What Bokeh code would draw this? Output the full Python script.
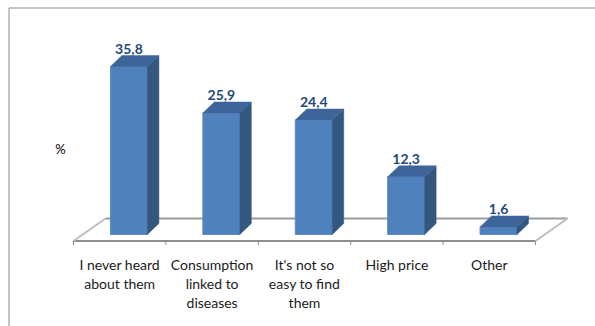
from bokeh.plotting import figure
from bokeh.models import Range1d, ColumnDataSource
from bokeh.core.properties import value
from bokeh.embed import file_html
from bokeh.resources import INLINE

# ---- data ----
categories = ["I never heard\nabout them", "Consumption\nlinked to\ndiseases",
              "It's not so\neasy to find\nthem", "High price", "Other"]
values = [35.8, 25.9, 24.4, 12.3, 1.6]
value_labels = ["35,8", "25,9", "24,4", "12,3", "1,6"]
axis_title = "%"

# ---- layout constants ----
W, H = 595, 326
PXX = 92.4      # pixels per category slot
PXY = 4.69      # pixels per percent
X0PX = 73       # pixel of the first slot boundary
Y0PX = 234      # pixel of the bar base
xr = Range1d(-X0PX / PXX, (W - X0PX) / PXX)
yr = Range1d(-(H - Y0PX) / PXY, Y0PX / PXY)

def px_x(d):
    return d / PXX

def px_y(d):
    return d / PXY

BAR_L, BAR_R = 0.40, 0.80
DX, DY = px_x(11.5), px_y(11)
FLOOR_FRONT, FLOOR_BACK = px_y(-6.5), px_y(16)
FLOOR_DX = px_x(32)

p = figure(width=W, height=H, x_range=xr, y_range=yr, output_backend="svg",
           toolbar_location=None, min_border=0)
p.axis.visible = False
p.grid.visible = False
p.outline_line_color = None
p.background_fill_color = "white"
p.border_fill_color = "white"

n = len(values)

# border (top + left edges of the chart area)
bx = xr.start + px_x(8.5)
by = yr.end - px_y(7.5)
p.line([bx, bx, xr.end], [yr.start, by, by], line_color="#8C8C8C", line_width=1)

# floor
p.line([0, n], [FLOOR_FRONT, FLOOR_FRONT], line_color="#8E8E8E", line_width=2)
p.line([FLOOR_DX, n + FLOOR_DX], [FLOOR_BACK, FLOOR_BACK], line_color="#9C9C9C", line_width=2)
p.segment(x0=[0, n], y0=[FLOOR_FRONT, FLOOR_FRONT], x1=[FLOOR_DX, n + FLOOR_DX],
          y1=[FLOOR_BACK, FLOOR_BACK], line_color="#BDBDBD", line_width=2)
# ticks
ticks = list(range(n + 1))
p.segment(x0=ticks, y0=[FLOOR_FRONT] * len(ticks), x1=ticks,
          y1=[FLOOR_FRONT - px_y(4)] * len(ticks), line_color="#8E8E8E", line_width=1)

# bars
left = [i + BAR_L for i in range(n)]
right = [i + BAR_R for i in range(n)]
src = ColumnDataSource(dict(left=left, right=right, top=values, bottom=[0] * n))
p.quad(left="left", right="right", top="top", bottom="bottom", source=src,
       fill_color="#4F81BD", line_color="#5B8CC6", line_width=1)
side_xs = [[r, r + DX, r + DX, r] for r in right]
side_ys = [[0, DY, v + DY, v] for v in values]
p.patches(side_xs, side_ys, fill_color="#34577F", line_color="#34577F", line_width=0.5)
top_xs = [[l, r, r + DX, l + DX] for l, r in zip(left, right)]
top_ys = [[v, v, v + DY, v + DY] for v in values]
p.patches(top_xs, top_ys, fill_color="#3E659A", line_color="#3E659A", line_width=0.5)

# value labels
p.text(x=[i + 0.6 for i in range(n)], y=[v + DY + px_y(2) for v in values], text=value_labels,
       text_font=value("Lato"), text_font_style="bold", text_font_size="14px",
       text_color="#1F497D", text_align="center", text_baseline="bottom")

# category labels
p.text(x=[i + 0.5 for i in range(n)], y=[px_y(-21)] * n, text=categories,
       text_font=value("Lato"), text_font_size="14px", text_color="#1A1A1A",
       text_align="center", text_baseline="top", text_line_height=1.12)

# axis title
p.text(x=[xr.start + px_x(60)], y=[yr.end - px_y(148)], text=[axis_title],
       text_font=value("Lato"), text_font_size="13px",
       text_color="#000000", text_align="center", text_baseline="middle")

open("out.html", "w").write(file_html(p, INLINE))
